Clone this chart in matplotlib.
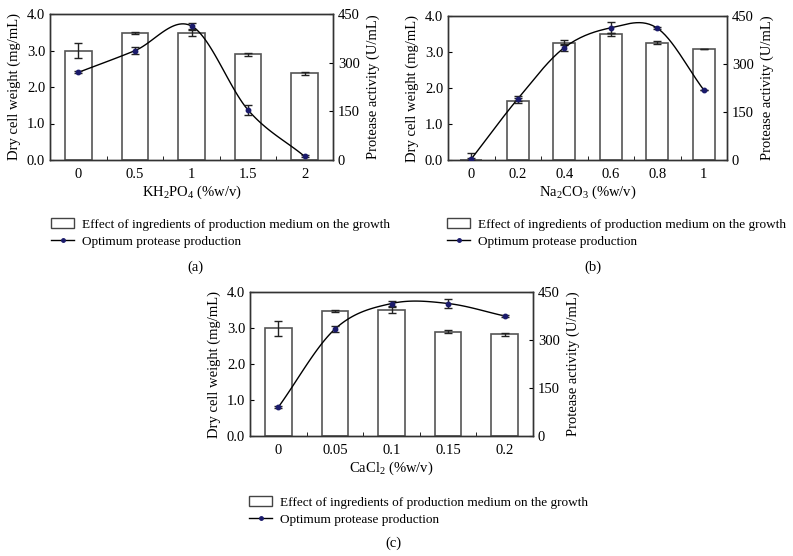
import numpy as np
import matplotlib
matplotlib.use("Agg")
import matplotlib.pyplot as plt
from matplotlib.patches import Patch
from matplotlib.lines import Line2D

plt.rcParams["font.family"] = ["Liberation Serif", "DejaVu Serif"]
plt.rcParams["mathtext.fontset"] = "custom"
plt.rcParams["mathtext.rm"] = "Liberation Serif"
plt.rcParams["mathtext.it"] = "Liberation Serif:italic"

# (a) KH2PO4
a_labels = ["0", "0.5", "1", "1.5", "2"]
a_weight = [3.0, 3.48, 3.49, 2.9, 2.38]
a_weight_err = [0.2, 0.03, 0.08, 0.04, 0.04]
a_protease = [270, 337, 413, 154, 11]
a_protease_err = [3, 10, 8, 15, 3]

# (b) Na2CO3
b_labels = ["0", "0.2", "0.4", "0.6", "0.8", "1"]
b_weight = [0.0, 1.65, 3.26, 3.49, 3.26, 3.08]
b_weight_err = [0.2, 0.08, 0.07, 0.05, 0.04, 0.0]
b_protease = [3, 191, 351, 413, 412, 219]
b_protease_err = [2, 8, 11, 17, 4, 0]

# (c) CaCl2
c_labels = ["0", "0.05", "0.1", "0.15", "0.2"]
c_weight = [2.99, 3.48, 3.49, 2.9, 2.82]
c_weight_err = [0.2, 0.03, 0.08, 0.04, 0.04]
c_protease = [90, 334, 414, 414, 375]
c_protease_err = [3, 10, 9, 14, 4]

bar_label = "Effect of ingredients of production medium on the growth"
line_label = "Optimum protease production"
marker_color = "#1b1b6b"
W, H = 793, 556


def smooth(x, y, n=30):
    # Catmull-Rom curve through the points (spreadsheet-style smoothed line)
    x = np.asarray(x, float)
    y = np.asarray(y, float)
    px = np.concatenate([[2 * x[0] - x[1]], x, [2 * x[-1] - x[-2]]])
    py = np.concatenate([[2 * y[0] - y[1]], y, [2 * y[-1] - y[-2]]])
    xs, ys = [], []
    t = np.linspace(0, 1, n)
    for i in range(1, len(px) - 2):
        p0, p1, p2, p3 = [np.array([px[j], py[j]]) for j in range(i - 1, i + 3)]
        c1 = p1 + (p2 - p0) / 6
        c2 = p2 - (p3 - p1) / 6
        pts = ((1 - t) ** 3)[:, None] * p1 + (3 * (1 - t) ** 2 * t)[:, None] * c1 \
            + (3 * (1 - t) * t ** 2)[:, None] * c2 + (t ** 3)[:, None] * p2
        xs.extend(pts[:, 0])
        ys.extend(pts[:, 1])
    return xs, ys


def panel(rect, labels, weight, weight_err, protease, protease_err, xlabel):
    l, t, r, b = rect
    ax = fig.add_axes([l / W, 1 - b / H, (r - l) / W, (b - t) / H])
    x = np.arange(len(labels))
    ax.bar(x, weight, width=0.47, color="white", edgecolor="#555555", linewidth=1.2, zorder=2)
    ax.errorbar(x, weight, yerr=weight_err, fmt="none", ecolor="#222222", elinewidth=1,
                capsize=3, capthick=1, zorder=3)
    ax.set_ylim(0, 4)
    ax.set_yticks([0, 1, 2, 3, 4])
    ax.set_yticklabels(["0.0", "1.0", "2.0", "3.0", "4.0"])
    ax.set_xlim(-0.5, len(labels) - 0.5)
    ax.set_xticks(x)
    ax.set_xticklabels(labels)
    ax.set_xticks(np.arange(len(labels) - 1) + 0.5, minor=True)
    ax.tick_params(axis="x", which="major", length=0, labelsize=10.5, pad=6)
    ax.tick_params(axis="x", which="minor", direction="in", length=3)
    ax.tick_params(axis="y", direction="in", length=3, labelsize=10.5)
    ax.set_ylabel("Dry cell weight (mg/mL)", fontsize=10.5, labelpad=4)
    ax.set_xlabel(xlabel, fontsize=10.5, labelpad=2)

    ax2 = ax.twinx()
    sx, sy = smooth(x, protease)
    ax2.plot(sx, sy, color="black", linewidth=1, zorder=4)
    ax2.errorbar(x, protease, yerr=protease_err, fmt="o", color=marker_color, markersize=3.2,
                 ecolor="#222222", elinewidth=1, capsize=3, capthick=1, zorder=5)
    ax2.set_ylim(0, 450)
    ax2.set_yticks([0, 150, 300, 450])
    ax2.tick_params(axis="y", direction="in", length=3, labelsize=10.5)
    ax2.set_ylabel("Protease activity (U/mL)", fontsize=10.5, labelpad=5)
    for a in (ax, ax2):
        for s in a.spines.values():
            s.set_color("#333333")
            s.set_linewidth(1)
    return ax


def legend_at(x, y):
    handles = [Patch(facecolor="white", edgecolor="#444444", linewidth=1),
               Line2D([0], [0], color="black", linewidth=1, marker="o", markersize=2.5,
                      markerfacecolor=marker_color, markeredgecolor=marker_color)]
    fig.legend(handles, [bar_label, line_label], loc="upper left",
               bbox_to_anchor=(x / W, 1 - y / H), frameon=False, fontsize=9.5,
               borderpad=0, borderaxespad=0, handlelength=1.75, handleheight=0.8,
               handletextpad=0.6, labelspacing=0.35)


fig = plt.figure(figsize=(W / 100, H / 100), dpi=100)

panel((50, 14, 333, 160), a_labels, a_weight, a_weight_err, a_protease, a_protease_err,
      r"KH$_2$PO$_4$ (%w/v)")
panel((448, 16, 727, 160), b_labels, b_weight, b_weight_err, b_protease, b_protease_err,
      r"Na$_2$CO$_3$ (%w/v)")
panel((250, 292, 533, 436), c_labels, c_weight, c_weight_err, c_protease, c_protease_err,
      r"CaCl$_2$ (%w/v)")

legend_at(51, 218)
legend_at(447, 218)
legend_at(249, 496)

fig.text(195 / W, 1 - 267 / H, "(a)", ha="center", va="center", fontsize=10.5)
fig.text(593 / W, 1 - 267 / H, "(b)", ha="center", va="center", fontsize=10.5)
fig.text(393 / W, 1 - 543 / H, "(c)", ha="center", va="center", fontsize=10.5)

fig.savefig("out.png", dpi=100)
